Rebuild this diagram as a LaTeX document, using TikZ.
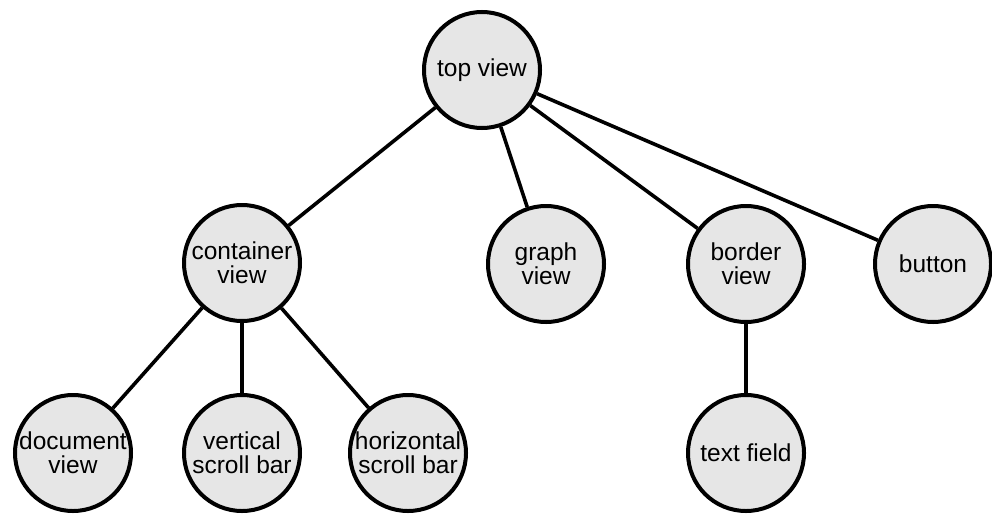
\documentclass[tikz,border=0pt]{standalone}
\usepackage{fontspec}
\setmainfont{Liberation Sans}
\definecolor{viewfill}{HTML}{E6E6E6}
\begin{document}
\begin{tikzpicture}[x=1pt,y=-1pt,
  viewnode/.style={circle, draw=black, line width=4pt, fill=viewfill,
    minimum size=116pt, inner sep=0pt, align=center,
    font=\fontsize{24.5}{24}\selectfont},
  link/.style={line width=3.6pt, draw=black}]
\useasboundingbox (0,0) rectangle (992,514);

% view hierarchy
\node[viewnode] (top)    at (482,70)  {top view};
\node[viewnode] (cont)   at (242,263) {container\\view};
\node[viewnode] (graph)  at (546,264) {graph\\view};
\node[viewnode] (border) at (746,264) {border\\view};
\node[viewnode] (button) at (933,264) {button};
\node[viewnode] (doc)    at (73,453)  {document\\view};
\node[viewnode] (vert)   at (242,453) {vertical\\scroll bar};
\node[viewnode] (horiz)  at (408,453) {horizontal\\scroll bar};
\node[viewnode] (field)  at (746,453) {text field};

% parent-child links
\draw[link] (top) -- (cont);
\draw[link] (top) -- (graph);
\draw[link] (top) -- (border);
\draw[link] (top) -- (button);
\draw[link] (cont) -- (doc);
\draw[link] (cont) -- (vert);
\draw[link] (cont) -- (horiz);
\draw[link] (border) -- (field);
\end{tikzpicture}
\end{document}
